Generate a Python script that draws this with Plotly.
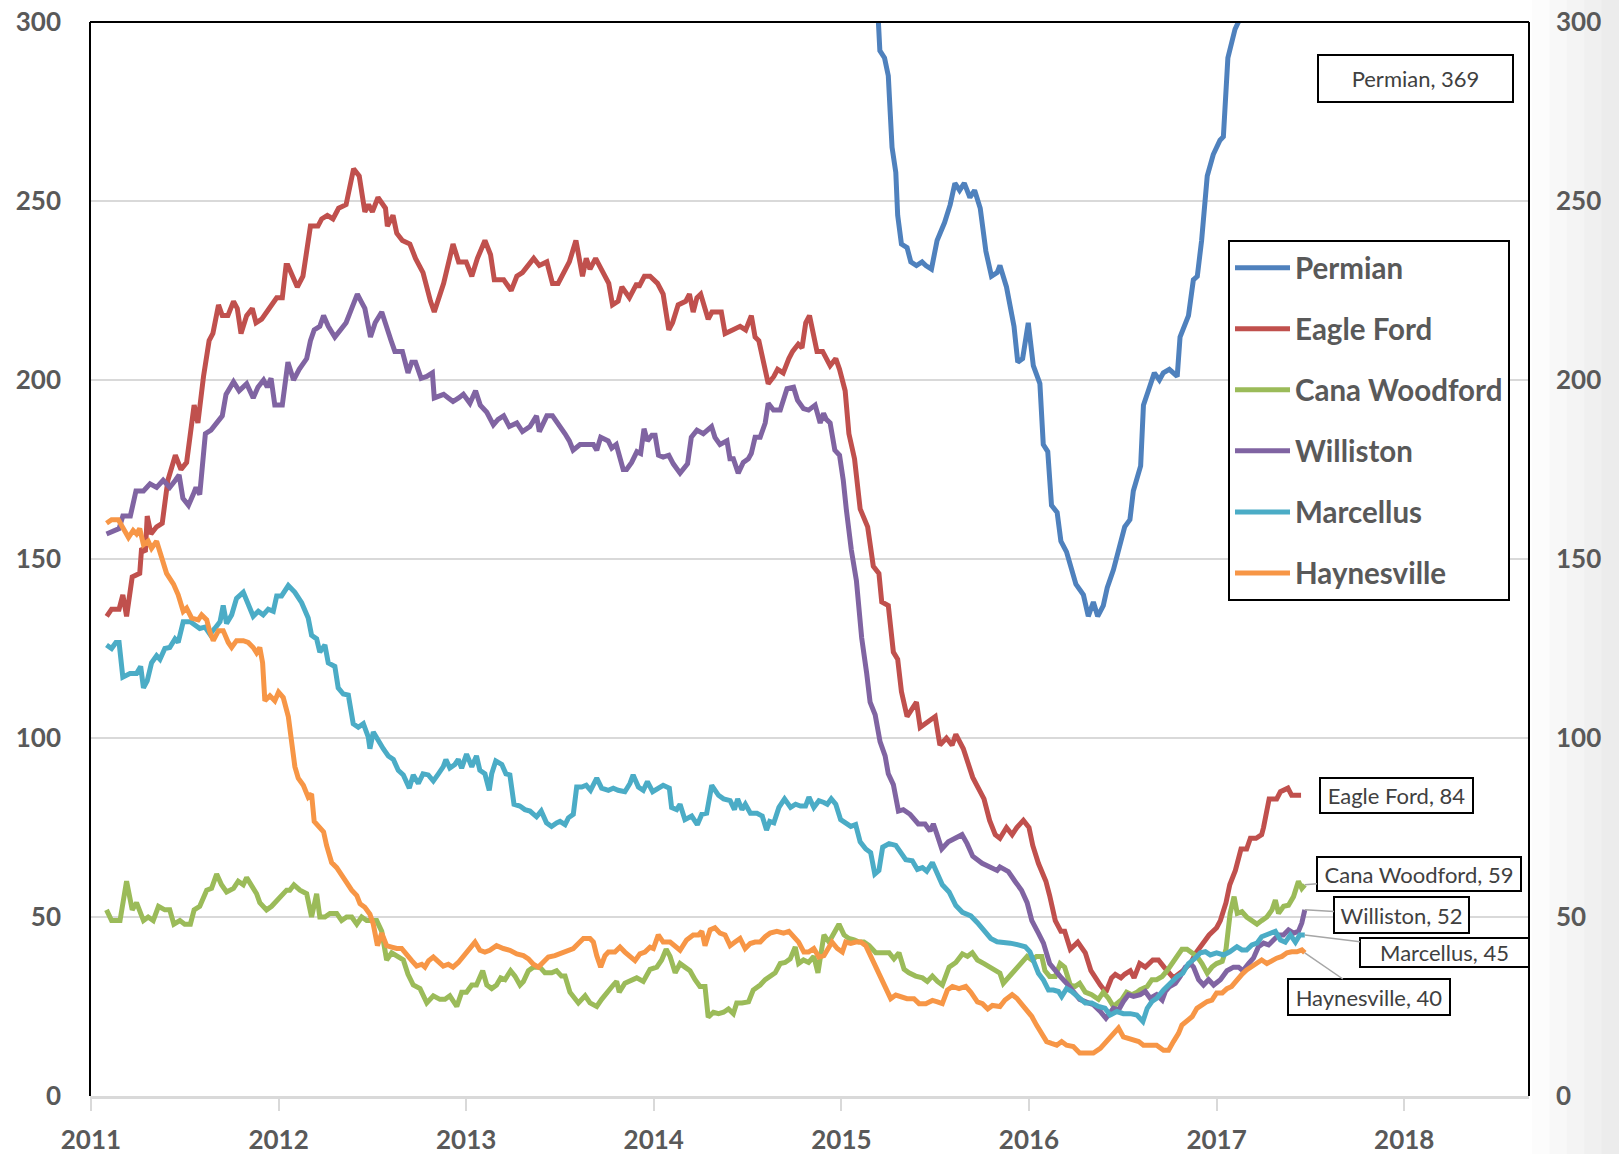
import plotly.graph_objects as go

# ---------------- data (decimal year, rig count) ----------------
YEAR_TICKS = [2011, 2012, 2013, 2014, 2015, 2016, 2017, 2018]
Y_TICKS = [0, 50, 100, 150, 200, 250, 300]

permian = [(2015.10, 400), (2015.17, 330), (2015.20, 300), (2015.205, 292), (2015.23, 290), (2015.25, 285),
           (2015.26, 275), (2015.27, 265), (2015.29, 258), (2015.30, 246), (2015.32, 238), (2015.35, 237),
           (2015.37, 233), (2015.40, 232), (2015.43, 233), (2015.45, 232), (2015.48, 231), (2015.51, 239),
           (2015.55, 244), (2015.58, 249), (2015.605, 255), (2015.63, 253), (2015.655, 255), (2015.685, 251),
           (2015.71, 253), (2015.74, 248), (2015.77, 236), (2015.80, 229), (2015.83, 230), (2015.845, 232),
           (2015.88, 226), (2015.907, 218), (2015.92, 215), (2015.94, 205), (2015.966, 206), (2015.996, 216),
           (2016.023, 204), (2016.058, 199), (2016.076, 182), (2016.10, 180), (2016.12, 165), (2016.15, 163),
           (2016.17, 155), (2016.20, 152), (2016.23, 147), (2016.25, 143), (2016.29, 140), (2016.316, 134),
           (2016.343, 138), (2016.366, 134), (2016.396, 137), (2016.417, 142), (2016.45, 147), (2016.476, 152),
           (2016.51, 159), (2016.538, 161), (2016.556, 169), (2016.595, 176), (2016.61, 193), (2016.636, 197),
           (2016.668, 202), (2016.695, 200), (2016.716, 202), (2016.748, 203), (2016.77, 202), (2016.79, 201),
           (2016.805, 212), (2016.83, 215), (2016.85, 218), (2016.876, 228), (2016.897, 229), (2016.92, 239),
           (2016.95, 257), (2016.982, 263), (2017.018, 267), (2017.036, 268), (2017.06, 290), (2017.098, 298),
           (2017.116, 300), (2017.16, 312), (2017.25, 335), (2017.35, 356), (2017.45, 369)]

eagle_ford = [(2011.084, 134), (2011.11, 136), (2011.15, 136), (2011.17, 140), (2011.19, 134), (2011.22, 145),
              (2011.26, 146), (2011.27, 153), (2011.29, 152), (2011.30, 162), (2011.32, 157), (2011.35, 159),
              (2011.38, 160), (2011.41, 172), (2011.45, 179), (2011.48, 175), (2011.51, 177), (2011.55, 193),
              (2011.57, 188), (2011.60, 201), (2011.63, 211), (2011.65, 213), (2011.68, 221), (2011.70, 218),
              (2011.73, 218), (2011.76, 222), (2011.78, 220), (2011.80, 213), (2011.83, 218), (2011.86, 220),
              (2011.88, 216), (2011.91, 217), (2011.95, 220), (2011.99, 223), (2012.02, 223), (2012.04, 232),
              (2012.05, 232), (2012.10, 226), (2012.13, 229), (2012.17, 243), (2012.21, 243), (2012.23, 245),
              (2012.26, 246), (2012.29, 245), (2012.32, 248), (2012.36, 249), (2012.40, 259), (2012.43, 257),
              (2012.46, 247), (2012.48, 249), (2012.50, 247), (2012.53, 251), (2012.57, 248), (2012.58, 243),
              (2012.61, 246), (2012.63, 241), (2012.66, 239), (2012.70, 238), (2012.73, 234), (2012.77, 230),
              (2012.81, 222), (2012.83, 219), (2012.88, 227), (2012.93, 238), (2012.96, 233), (2013.00, 233),
              (2013.03, 229), (2013.06, 234), (2013.10, 239), (2013.13, 235), (2013.15, 228), (2013.20, 228),
              (2013.24, 225), (2013.27, 229), (2013.30, 230), (2013.36, 234), (2013.39, 232), (2013.43, 233),
              (2013.46, 227), (2013.49, 227), (2013.55, 233), (2013.585, 239), (2013.62, 229), (2013.64, 234),
              (2013.66, 231), (2013.69, 234), (2013.73, 230), (2013.76, 227), (2013.78, 221), (2013.81, 222),
              (2013.83, 226), (2013.87, 223), (2013.91, 227), (2013.92, 226), (2013.95, 229), (2013.98, 229),
              (2014.02, 227), (2014.05, 224), (2014.08, 214), (2014.10, 216), (2014.13, 221), (2014.17, 222),
              (2014.19, 224), (2014.21, 219), (2014.23, 223), (2014.25, 224), (2014.29, 217), (2014.31, 219),
              (2014.36, 219), (2014.38, 213), (2014.42, 214), (2014.46, 215), (2014.49, 214), (2014.52, 218),
              (2014.54, 212), (2014.56, 211), (2014.61, 199), (2014.64, 201), (2014.66, 203), (2014.69, 202),
              (2014.72, 206), (2014.74, 208), (2014.77, 210), (2014.79, 209), (2014.81, 216), (2014.83, 218),
              (2014.87, 208), (2014.90, 208), (2014.94, 204), (2014.97, 206), (2014.99, 203), (2015.02, 197),
              (2015.04, 185), (2015.07, 178), (2015.10, 164), (2015.14, 159), (2015.17, 148), (2015.20, 146),
              (2015.215, 138), (2015.25, 137), (2015.277, 124), (2015.30, 122), (2015.32, 113), (2015.35, 106),
              (2015.375, 108), (2015.40, 110), (2015.42, 103), (2015.45, 104), (2015.50, 106), (2015.525, 98),
              (2015.56, 100), (2015.59, 98), (2015.61, 101), (2015.65, 97), (2015.70, 89), (2015.76, 83),
              (2015.79, 77), (2015.82, 73), (2015.845, 72), (2015.88, 75), (2015.91, 73), (2015.935, 75),
              (2015.97, 77), (2016.00, 75), (2016.02, 70), (2016.05, 65), (2016.09, 60), (2016.11, 56),
              (2016.14, 49), (2016.17, 46), (2016.19, 46), (2016.22, 41), (2016.26, 43), (2016.30, 40),
              (2016.33, 35), (2016.38, 31), (2016.41, 29), (2016.44, 33), (2016.46, 34), (2016.49, 33),
              (2016.51, 34), (2016.54, 35), (2016.56, 33), (2016.59, 37), (2016.62, 36), (2016.66, 38),
              (2016.69, 38), (2016.72, 36), (2016.75, 34), (2016.77, 33), (2016.82, 35), (2016.86, 37),
              (2016.89, 40), (2016.93, 43), (2016.96, 45), (2017.00, 47), (2017.02, 49), (2017.05, 54),
              (2017.07, 59), (2017.10, 63), (2017.13, 69), (2017.16, 69), (2017.18, 72), (2017.21, 72),
              (2017.24, 73), (2017.25, 75), (2017.28, 83), (2017.32, 83), (2017.34, 85), (2017.38, 86),
              (2017.40, 84), (2017.45, 84)]

cana_woodford = [(2011.083, 52), (2011.11, 49), (2011.155, 49), (2011.19, 60), (2011.22, 52), (2011.243, 54),
                 (2011.28, 49), (2011.305, 50), (2011.332, 49), (2011.36, 53), (2011.394, 52), (2011.42, 52),
                 (2011.442, 48), (2011.474, 49), (2011.50, 48), (2011.53, 48), (2011.55, 52), (2011.58, 53),
                 (2011.617, 57.5), (2011.643, 58), (2011.67, 62), (2011.696, 59), (2011.723, 57), (2011.76, 58),
                 (2011.785, 60), (2011.812, 59), (2011.83, 61), (2011.865, 58), (2011.883, 56.5), (2011.90, 54),
                 (2011.936, 52), (2011.963, 53), (2011.99, 54.6), (2012.016, 56), (2012.043, 57.5), (2012.06, 57.5),
                 (2012.082, 59), (2012.114, 57.5), (2012.15, 56.5), (2012.176, 50), (2012.203, 56.5), (2012.22, 50),
                 (2012.247, 50), (2012.274, 51), (2012.31, 51), (2012.336, 49), (2012.363, 50), (2012.39, 50),
                 (2012.417, 48), (2012.443, 50), (2012.47, 49), (2012.496, 49), (2012.523, 49), (2012.55, 46),
                 (2012.576, 38), (2012.603, 40), (2012.63, 39), (2012.665, 38), (2012.69, 34), (2012.718, 31),
                 (2012.754, 30), (2012.79, 26), (2012.825, 28), (2012.86, 27), (2012.887, 27), (2012.913, 28),
                 (2012.95, 25), (2012.976, 29), (2013.002, 29), (2013.03, 31), (2013.055, 31), (2013.088, 35),
                 (2013.11, 31), (2013.136, 30), (2013.162, 31), (2013.184, 33), (2013.207, 32.5), (2013.237, 35),
                 (2013.26, 33.5), (2013.287, 31), (2013.305, 32), (2013.332, 35), (2013.358, 36), (2013.393, 36),
                 (2013.42, 34.4), (2013.456, 34.4), (2013.482, 35), (2013.508, 33.5), (2013.527, 33.5),
                 (2013.553, 29), (2013.598, 26), (2013.634, 28), (2013.66, 26), (2013.696, 25), (2013.722, 27),
                 (2013.749, 29), (2013.784, 31), (2013.802, 32), (2013.816, 29), (2013.846, 31.5), (2013.882, 32.5),
                 (2013.909, 33), (2013.944, 32), (2013.98, 35.4), (2014.016, 36), (2014.042, 38), (2014.066, 41),
                 (2014.087, 39), (2014.114, 34.4), (2014.14, 37), (2014.166, 36), (2014.193, 35), (2014.22, 32.5),
                 (2014.246, 30.6), (2014.273, 30.6), (2014.29, 22), (2014.318, 23.4), (2014.345, 23), (2014.372, 23.4),
                 (2014.398, 24.3), (2014.424, 23), (2014.442, 26), (2014.47, 26), (2014.505, 26.3), (2014.53, 29.6),
                 (2014.567, 31), (2014.594, 32.5), (2014.62, 33.5), (2014.647, 34.4), (2014.674, 37), (2014.70, 37.3),
                 (2014.727, 38.3), (2014.754, 41.6), (2014.772, 37), (2014.798, 38), (2014.825, 37.3), (2014.853, 39),
                 (2014.875, 34.4), (2014.89, 40), (2014.907, 45), (2014.934, 43), (2014.96, 45.5), (2014.987, 48),
                 (2015.014, 45), (2015.04, 44), (2015.068, 43.6), (2015.094, 43), (2015.12, 43), (2015.148, 42),
                 (2015.183, 40), (2015.22, 40), (2015.254, 40), (2015.28, 38.3), (2015.307, 40), (2015.334, 35.4),
                 (2015.36, 34.4), (2015.396, 33.5), (2015.432, 33), (2015.458, 32), (2015.485, 33.5), (2015.512, 32),
                 (2015.538, 31), (2015.574, 36), (2015.61, 37.3), (2015.645, 39.7), (2015.672, 39), (2015.698, 40),
                 (2015.725, 38), (2015.76, 37), (2015.796, 36), (2015.83, 35), (2015.845, 34.3), (2015.863, 31.5),
                 (2015.89, 33), (2015.925, 35), (2015.96, 37), (2015.99, 39), (2016.015, 38), (2016.04, 39),
                 (2016.068, 39), (2016.085, 35), (2016.11, 33.4), (2016.14, 33.4), (2016.166, 37), (2016.19, 36),
                 (2016.22, 31), (2016.245, 30.6), (2016.27, 31.5), (2016.30, 29), (2016.334, 28.3), (2016.37, 27),
                 (2016.396, 29), (2016.423, 27.3), (2016.45, 25), (2016.468, 26), (2016.495, 27), (2016.52, 29),
                 (2016.548, 28.3), (2016.575, 29), (2016.593, 29.7), (2016.63, 30.6), (2016.655, 32.5), (2016.68, 32.5),
                 (2016.71, 33.4), (2016.736, 35), (2016.762, 37), (2016.79, 39.4), (2016.815, 41), (2016.842, 41),
                 (2016.87, 40), (2016.895, 39), (2016.922, 37), (2016.95, 34.3), (2016.975, 36), (2017.0, 37),
                 (2017.03, 37.6), (2017.05, 41), (2017.072, 51), (2017.093, 55.7), (2017.11, 51), (2017.135, 51.5),
                 (2017.16, 50), (2017.188, 49), (2017.215, 48), (2017.24, 49), (2017.268, 50), (2017.295, 52),
                 (2017.313, 54.7), (2017.33, 51), (2017.357, 53), (2017.383, 53.3), (2017.41, 55.7), (2017.436, 60),
                 (2017.454, 58), (2017.47, 59)]

williston = [(2011.083, 157), (2011.12, 158), (2011.15, 158.5), (2011.17, 162), (2011.21, 162), (2011.24, 169),
             (2011.28, 169), (2011.315, 171), (2011.35, 170), (2011.385, 172), (2011.42, 170), (2011.45, 172),
             (2011.47, 173.5), (2011.49, 167), (2011.52, 165), (2011.545, 168), (2011.56, 170), (2011.58, 168),
             (2011.61, 185), (2011.64, 186), (2011.68, 189), (2011.70, 190), (2011.72, 196), (2011.76, 199.5),
             (2011.79, 197), (2011.83, 199), (2011.865, 195), (2011.89, 198), (2011.92, 200), (2011.94, 198),
             (2011.96, 200.5), (2011.98, 193), (2012.02, 193), (2012.05, 205), (2012.08, 200), (2012.11, 203),
             (2012.15, 206), (2012.17, 211), (2012.19, 214), (2012.22, 215), (2012.24, 218), (2012.265, 215),
             (2012.30, 212), (2012.33, 214), (2012.36, 216), (2012.39, 220), (2012.42, 224), (2012.44, 222),
             (2012.46, 220), (2012.49, 212), (2012.515, 216), (2012.55, 219), (2012.58, 213.5), (2012.60, 211),
             (2012.62, 208), (2012.66, 208), (2012.69, 202), (2012.71, 205), (2012.73, 205), (2012.76, 200.5),
             (2012.79, 201), (2012.82, 202), (2012.83, 195), (2012.88, 196), (2012.905, 195), (2012.93, 194),
             (2012.96, 195), (2012.985, 196), (2013.02, 193.5), (2013.05, 197), (2013.075, 193), (2013.11, 191),
             (2013.145, 187.5), (2013.17, 189), (2013.20, 190), (2013.23, 187), (2013.27, 188), (2013.30, 185.6),
             (2013.34, 187), (2013.375, 190), (2013.39, 185.6), (2013.43, 190), (2013.46, 190), (2013.49, 188),
             (2013.527, 185), (2013.55, 183), (2013.57, 180.4), (2013.607, 182), (2013.64, 182), (2013.678, 182),
             (2013.696, 180.4), (2013.717, 184), (2013.757, 183), (2013.776, 181), (2013.80, 182), (2013.82, 178.5),
             (2013.837, 175), (2013.855, 175), (2013.882, 177), (2013.91, 180), (2013.93, 179.5), (2013.948, 186.4),
             (2013.966, 183), (2013.99, 184.6), (2014.007, 184.6), (2014.025, 179), (2014.05, 178.5), (2014.08, 179),
             (2014.104, 176.6), (2014.14, 174), (2014.18, 176.6), (2014.20, 184), (2014.23, 186), (2014.264, 185),
             (2014.308, 187), (2014.326, 184), (2014.353, 182), (2014.39, 183), (2014.406, 178), (2014.424, 178),
             (2014.45, 174), (2014.477, 177), (2014.504, 178), (2014.52, 179.5), (2014.54, 184), (2014.567, 184),
             (2014.594, 188), (2014.61, 193.5), (2014.638, 191.6), (2014.674, 191.6), (2014.71, 197.6),
             (2014.745, 198), (2014.766, 194.4), (2014.798, 192), (2014.825, 191.6), (2014.86, 193), (2014.887, 188),
             (2014.905, 190.7), (2014.92, 189), (2014.94, 188), (2014.965, 180.4), (2014.99, 179), (2015.01, 172),
             (2015.026, 164), (2015.053, 152.5), (2015.08, 144), (2015.108, 128), (2015.135, 118), (2015.153, 110),
             (2015.18, 106.5), (2015.206, 99), (2015.233, 95), (2015.25, 90), (2015.277, 87), (2015.304, 79.6),
             (2015.33, 80), (2015.366, 78.7), (2015.41, 76), (2015.446, 76), (2015.473, 74), (2015.49, 76),
             (2015.51, 73), (2015.535, 69), (2015.57, 71), (2015.607, 72), (2015.643, 73), (2015.67, 70.5),
             (2015.70, 67), (2015.75, 65), (2015.79, 64), (2015.83, 63), (2015.845, 64), (2015.89, 62.7),
             (2015.925, 60), (2015.96, 57.5), (2015.99, 54), (2016.015, 49), (2016.05, 45.5), (2016.077, 42.7),
             (2016.11, 37), (2016.14, 34.8), (2016.166, 33.4), (2016.20, 31.5), (2016.236, 29), (2016.27, 27),
             (2016.316, 26), (2016.343, 25.5), (2016.38, 23.6), (2016.41, 21.7), (2016.45, 24.5), (2016.477, 24),
             (2016.503, 26.4), (2016.53, 28.3), (2016.557, 27.8), (2016.593, 28.3), (2016.62, 29.2), (2016.646, 27.3),
             (2016.68, 28.3), (2016.71, 26.8), (2016.727, 29.2), (2016.75, 30.6), (2016.78, 31.5), (2016.806, 33.4),
             (2016.833, 36), (2016.86, 37), (2016.877, 36), (2016.904, 32.5), (2016.93, 31), (2016.957, 32.5),
             (2016.984, 31), (2017.02, 32.5), (2017.055, 35), (2017.09, 36), (2017.117, 36), (2017.14, 35),
             (2017.17, 37), (2017.196, 38.5), (2017.223, 41.7), (2017.25, 42.7), (2017.277, 42.2), (2017.30, 43.6),
             (2017.33, 45), (2017.356, 45), (2017.383, 46.4), (2017.41, 45.5), (2017.436, 46), (2017.454, 48.3),
             (2017.47, 52)]

marcellus = [(2011.083, 126), (2011.11, 125), (2011.133, 126.7), (2011.15, 126.7), (2011.17, 117), (2011.208, 118),
             (2011.243, 118), (2011.265, 120), (2011.28, 114), (2011.30, 116), (2011.323, 121), (2011.35, 123),
             (2011.368, 122), (2011.394, 125), (2011.42, 125.3), (2011.448, 127.7), (2011.465, 126.7),
             (2011.492, 132.5), (2011.53, 132.5), (2011.563, 131.5), (2011.58, 130.6), (2011.608, 131),
             (2011.634, 129), (2011.66, 130.6), (2011.688, 132.5), (2011.705, 137), (2011.723, 132), (2011.75, 134.4),
             (2011.776, 139), (2011.812, 140.7), (2011.838, 137), (2011.865, 134), (2011.892, 135.4), (2011.918, 134.4),
             (2011.945, 136), (2011.972, 135.4), (2011.99, 139.7), (2012.016, 139.7), (2012.052, 142.6),
             (2012.087, 140.7), (2012.123, 137.8), (2012.158, 133.5), (2012.176, 128.7), (2012.203, 127.7),
             (2012.22, 124), (2012.247, 126), (2012.265, 121), (2012.30, 120), (2012.318, 114), (2012.345, 112.3),
             (2012.372, 112), (2012.398, 104), (2012.425, 103), (2012.452, 104), (2012.478, 100.3), (2012.487, 97),
             (2012.505, 101.7), (2012.532, 99), (2012.558, 97), (2012.585, 95), (2012.612, 94), (2012.638, 91),
             (2012.665, 89.7), (2012.697, 86), (2012.718, 89.7), (2012.745, 87.3), (2012.77, 90), (2012.798, 89.7),
             (2012.825, 88), (2012.852, 90), (2012.878, 92), (2012.892, 94), (2012.913, 91.6), (2012.94, 92.6),
             (2012.958, 94), (2012.976, 91.6), (2013.002, 95.5), (2013.03, 92), (2013.055, 95), (2013.073, 91),
             (2013.10, 90), (2013.123, 85.4), (2013.136, 90), (2013.158, 93.6), (2013.19, 92.6), (2013.212, 90),
             (2013.233, 89.7), (2013.255, 81.5), (2013.286, 81), (2013.313, 80), (2013.34, 79.6), (2013.375, 78),
             (2013.40, 79.6), (2013.428, 76.3), (2013.455, 75.3), (2013.482, 76.3), (2013.50, 76.7),
             (2013.527, 75.8), (2013.545, 77.7), (2013.571, 78.7), (2013.589, 86.3), (2013.616, 86.3),
             (2013.64, 86.8), (2013.663, 85.4), (2013.696, 88.8), (2013.722, 86), (2013.758, 85.4), (2013.784, 86),
             (2013.81, 85.4), (2013.846, 85), (2013.873, 87.3), (2013.89, 89.7), (2013.918, 86.3), (2013.944, 85.4),
             (2013.966, 87.8), (2013.994, 85), (2014.024, 86), (2014.05, 86.8), (2014.083, 86), (2014.095, 80.6),
             (2014.122, 80), (2014.14, 81.5), (2014.166, 77.2), (2014.202, 78.2), (2014.232, 75.8), (2014.256, 78.7),
             (2014.282, 79), (2014.309, 86.8), (2014.345, 84), (2014.372, 83), (2014.407, 82.5), (2014.43, 80),
             (2014.447, 83), (2014.47, 80), (2014.488, 81.5), (2014.515, 79), (2014.55, 79), (2014.578, 78.2),
             (2014.601, 74.3), (2014.618, 76.7), (2014.64, 76.3), (2014.667, 80.6), (2014.697, 83), (2014.729, 80.6),
             (2014.756, 81.5), (2014.782, 81), (2014.809, 81), (2014.827, 83.5), (2014.853, 80.6), (2014.88, 82.5),
             (2014.907, 82), (2014.925, 81.5), (2014.946, 83), (2014.97, 81.5), (2014.996, 77.2), (2015.023, 76.3),
             (2015.05, 75.3), (2015.076, 75.8), (2015.10, 71), (2015.13, 69), (2015.156, 68), (2015.178, 62),
             (2015.20, 63), (2015.22, 69.5), (2015.254, 70.5), (2015.29, 70), (2015.316, 68), (2015.343, 66),
             (2015.378, 65.7), (2015.405, 63.3), (2015.432, 63.8), (2015.455, 62.8), (2015.485, 65.2),
             (2015.512, 61.8), (2015.538, 59), (2015.574, 57), (2015.61, 53.2), (2015.645, 51.3), (2015.69, 50.3),
             (2015.725, 48.4), (2015.76, 46.4), (2015.796, 44), (2015.83, 43.1), (2015.87, 43), (2015.90, 42.7),
             (2015.943, 42.2), (2015.98, 41.7), (2016.005, 40.3), (2016.023, 38), (2016.05, 34.3), (2016.077, 32.4),
             (2016.104, 29.6), (2016.13, 29.6), (2016.157, 29.2), (2016.174, 27.8), (2016.20, 30), (2016.228, 29.2),
             (2016.263, 27.8), (2016.30, 26), (2016.334, 26), (2016.37, 25), (2016.405, 24.5), (2016.432, 22.6),
             (2016.468, 23.6), (2016.503, 23), (2016.54, 23), (2016.575, 22.6), (2016.607, 20.8), (2016.63, 24.5),
             (2016.655, 26.4), (2016.68, 27.3), (2016.717, 29.6), (2016.753, 31.5), (2016.79, 33.4), (2016.82, 34.3),
             (2016.85, 37), (2016.886, 38.5), (2016.913, 40), (2016.94, 40.3), (2016.966, 39.4), (2017.0, 40),
             (2017.037, 39.4), (2017.07, 40.3), (2017.108, 41.7), (2017.135, 40.8), (2017.16, 40.8), (2017.188, 42.2),
             (2017.215, 42.7), (2017.24, 44.5), (2017.268, 45), (2017.295, 45.4), (2017.313, 46), (2017.34, 43.6),
             (2017.366, 43), (2017.393, 45), (2017.42, 43), (2017.443, 45), (2017.47, 45)]

haynesville = [(2011.083, 160), (2011.11, 161), (2011.146, 161), (2011.172, 158.5), (2011.20, 156), (2011.225, 158),
               (2011.243, 157), (2011.26, 158.5), (2011.28, 154), (2011.305, 155), (2011.323, 153), (2011.35, 155),
               (2011.38, 150), (2011.403, 146), (2011.44, 143), (2011.465, 140), (2011.492, 135.4), (2011.51, 136.3),
               (2011.537, 133.5), (2011.572, 133), (2011.59, 134.4), (2011.617, 133), (2011.634, 129.6),
               (2011.652, 127.2), (2011.68, 130), (2011.705, 130), (2011.732, 126.7), (2011.75, 125.3),
               (2011.776, 127.2), (2011.812, 127.2), (2011.838, 126.7), (2011.865, 125.3), (2011.883, 123.8),
               (2011.90, 125.3), (2011.915, 121), (2011.927, 110.4), (2011.954, 111.8), (2011.98, 110.4),
               (2012.0, 112.8), (2012.025, 111.3), (2012.052, 106), (2012.07, 99.8), (2012.087, 92), (2012.105, 88.8),
               (2012.132, 86.8), (2012.158, 83.5), (2012.176, 84.4), (2012.19, 76.7), (2012.212, 75.3),
               (2012.24, 73.8), (2012.256, 70), (2012.283, 65.2), (2012.31, 63.8), (2012.336, 61.8), (2012.363, 59.4),
               (2012.39, 57.5), (2012.417, 56), (2012.434, 53.7), (2012.46, 52.7), (2012.487, 50.8), (2012.505, 48),
               (2012.527, 42), (2012.55, 45.5), (2012.576, 42), (2012.603, 41.6), (2012.63, 41.2), (2012.656, 41.2),
               (2012.683, 39.2), (2012.71, 37.8), (2012.736, 36.3), (2012.763, 36.8), (2012.78, 36), (2012.80, 37.8),
               (2012.825, 38.8), (2012.852, 37.3), (2012.878, 36.3), (2012.905, 36.8), (2012.93, 36), (2012.958, 37.3),
               (2012.985, 39.2), (2013.02, 41.2), (2013.047, 43), (2013.073, 40.7), (2013.10, 40.2), (2013.126, 40.7),
               (2013.162, 42), (2013.198, 41.2), (2013.233, 40.7), (2013.27, 39.7), (2013.305, 39.2), (2013.332, 38.3),
               (2013.358, 36.8), (2013.385, 36), (2013.41, 37.3), (2013.438, 38.8), (2013.473, 39.2), (2013.50, 39.7),
               (2013.536, 40.2), (2013.571, 41.2), (2013.598, 42.6), (2013.625, 44), (2013.66, 44), (2013.678, 43),
               (2013.696, 39.2), (2013.717, 36), (2013.74, 39.2), (2013.758, 40.2), (2013.793, 40.2), (2013.82, 41.6),
               (2013.846, 40.2), (2013.873, 38.8), (2013.90, 37.8), (2013.926, 39.7), (2013.953, 40.2),
               (2013.98, 41.6), (2013.998, 41.2), (2014.024, 45), (2014.05, 43), (2014.087, 43), (2014.114, 42),
               (2014.14, 40.7), (2014.175, 43.6), (2014.21, 45), (2014.238, 45), (2014.256, 46), (2014.273, 42),
               (2014.30, 46.4), (2014.326, 47), (2014.353, 45.5), (2014.38, 45), (2014.407, 42), (2014.433, 43),
               (2014.46, 44), (2014.487, 41.2), (2014.514, 42.6), (2014.54, 43), (2014.567, 43), (2014.594, 44.5),
               (2014.62, 45.5), (2014.656, 46), (2014.692, 45.5), (2014.72, 46), (2014.745, 44.5), (2014.772, 43),
               (2014.80, 40.2), (2014.825, 40.2), (2014.853, 41.2), (2014.88, 38.8), (2014.907, 39.2), (2014.925, 40.7),
               (2014.95, 43), (2014.978, 41.2), (2015.005, 40.2), (2015.023, 43), (2015.05, 42.6), (2015.076, 43),
               (2015.103, 43), (2015.13, 42), (2015.156, 39.2), (2015.183, 36), (2015.21, 33.5), (2015.236, 30.6),
               (2015.263, 27.2), (2015.29, 28.2), (2015.316, 27.7), (2015.35, 27.2), (2015.387, 27.2), (2015.414, 25.8),
               (2015.45, 25.8), (2015.485, 26.7), (2015.512, 26.3), (2015.538, 25.8), (2015.565, 29.6), (2015.592, 30.6),
               (2015.627, 30), (2015.663, 30.6), (2015.69, 29), (2015.725, 26.3), (2015.752, 25.8), (2015.78, 24.3),
               (2015.805, 25.3), (2015.83, 25.3), (2015.845, 25), (2015.872, 26.8), (2015.91, 28.3), (2015.935, 27.3),
               (2015.962, 25.5), (2015.99, 24), (2016.015, 22.2), (2016.04, 19.8), (2016.068, 17.5), (2016.094, 15.2),
               (2016.12, 14.7), (2016.148, 14.2), (2016.174, 15.2), (2016.20, 14.2), (2016.236, 13.8), (2016.27, 12),
               (2016.307, 12), (2016.343, 12), (2016.38, 13.3), (2016.41, 15.2), (2016.44, 17), (2016.468, 18.4),
               (2016.477, 19), (2016.503, 16.5), (2016.53, 16), (2016.557, 15.6), (2016.585, 15.2), (2016.61, 14.2),
               (2016.647, 14.2), (2016.68, 14.2), (2016.717, 12.8), (2016.744, 12.8), (2016.77, 15.2), (2016.797, 17.5),
               (2016.815, 19.8), (2016.842, 20.8), (2016.87, 22.2), (2016.895, 24.5), (2016.922, 25.5), (2016.95, 26.4),
               (2016.975, 26.8), (2017.0, 28.8), (2017.03, 28.8), (2017.055, 30), (2017.08, 30.6), (2017.108, 32.5),
               (2017.135, 34), (2017.16, 35.2), (2017.188, 36.2), (2017.215, 37), (2017.24, 38), (2017.268, 37),
               (2017.295, 38), (2017.32, 38.5), (2017.348, 39), (2017.375, 40), (2017.40, 40.3), (2017.428, 40.3),
               (2017.454, 40.8), (2017.47, 40)]

SERIES = [
    ("Permian", permian, "#4F81BD"),
    ("Eagle Ford", eagle_ford, "#C0504D"),
    ("Cana Woodford", cana_woodford, "#9BBB59"),
    ("Williston", williston, "#8064A2"),
    ("Marcellus", marcellus, "#4BACC6"),
    ("Haynesville", haynesville, "#F79646"),
]

# ---------------- geometry (screen pixels; body margin removed by post_script) ----------------
SW, SH = 1619, 1154
W, H = SW, SH
PL, PR, PT, PB = 90, 1529, 22, 1096          # plot area in screen pixels
ML, MT = PL, PT
MR, MB = W - PR, H - PB
PW, PH = PR - PL, PB - PT
XR = [2010.995, 2018.665]
YR = [0, 300.02]


def px(xs):
    return (xs - PL) / PW


def py(ys):
    return (PB - ys) / PH


fig = go.Figure()
for i, (name, pts, color) in enumerate(SERIES):
    fig.add_trace(go.Scatter(
        x=[p[0] for p in pts], y=[p[1] for p in pts], name=name, mode="lines",
        line=dict(color=color, width=5), legendgroup=name, hoverinfo="skip",
        yaxis="y2" if i == len(SERIES) - 1 else "y"))

TICK_FONT = dict(family="Lato", size=26, color="#595959", weight="bold")

fig.update_layout(
    width=W, height=H,
    margin=dict(l=ML, r=MR, t=MT, b=MB, autoexpand=False),
    paper_bgcolor="white", plot_bgcolor="white",
    font=dict(family="Lato"),
    showlegend=True,
    legend=dict(x=px(1228), y=py(240), xanchor="left", yanchor="top",
                bgcolor="white", bordercolor="black", borderwidth=2,
                font=dict(family="Lato", size=29.5, color="#595959", weight="bold"),
                tracegroupgap=19.7, itemwidth=55, traceorder="grouped"),
    xaxis=dict(range=XR, tickmode="array", tickvals=YEAR_TICKS,
               ticktext=[str(v) for v in YEAR_TICKS], tickfont=TICK_FONT,
               showgrid=False, zeroline=False, showline=True, linecolor="#d9d9d9", linewidth=3,
               ticks="outside", ticklen=12, tickwidth=2, tickcolor="#d9d9d9",
               ticklabelstandoff=7, ticklabeloverflow="allow", automargin=False),
    yaxis=dict(range=YR, tickmode="array", tickvals=Y_TICKS, tickfont=TICK_FONT,
               showgrid=True, gridcolor="#d9d9d9", gridwidth=2, zeroline=False,
               showline=False, ticks="", ticklabelstandoff=28, ticklabeloverflow="allow",
               automargin=False),
    yaxis2=dict(range=YR, tickmode="array", tickvals=Y_TICKS, tickfont=TICK_FONT,
                overlaying="y", side="right", showgrid=False, zeroline=False,
                showline=False, ticks="", ticklabelstandoff=26, ticklabeloverflow="allow",
                automargin=False),
)

# slide-like gray gradient at the right edge
grays = ["#fcfcfc", "#f8f8f8", "#f4f4f4", "#f0f0f0", "#ececec"]
x0 = 1532
step = (SW - x0) / len(grays)
for i, g in enumerate(grays):
    fig.add_shape(type="rect", xref="paper", yref="paper", layer="below",
                  x0=px(x0 + i * step), x1=px(x0 + (i + 1) * step) + 0.001,
                  y0=py(SH + 5), y1=py(-5), fillcolor=g, line=dict(width=0))

# black frame on left, top and right of plot area
for (xa, ya, xb, yb) in [(0, 0, 0, 1), (0, 1, 1, 1), (1, 0, 1, 1)]:
    fig.add_shape(type="line", xref="paper", yref="paper", x0=xa, y0=ya, x1=xb, y1=yb,
                  line=dict(color="black", width=2), layer="above")

LABEL_FONT = dict(family="Lato", size=22, color="#404040")

# end-value labels: (series, box centre x, y in screen px, box w, h, leader line?)
labels = [
    ("Permian", 1415.5, 78.5, 197, 49, False),
    ("Eagle Ford", 1396.5, 795.5, 155, 37, False),
    ("Cana Woodford", 1419, 874, 206, 36, True),
    ("Williston", 1401.5, 915, 137, 38, True),
    ("Marcellus", 1444.5, 952.5, 171, 31, True),
    ("Haynesville", 1369, 997, 164, 38, True),
]
series_map = {n: pts for n, pts, c in SERIES}
for name, cx, cy, bw, bh, arrow in labels:
    ex, ey = series_map[name][-1]
    text = f"{name}, {ey:g}"
    common = dict(text=text, font=LABEL_FONT, bgcolor="white", bordercolor="black",
                  borderwidth=2, borderpad=0, width=bw - 4, height=bh - 4, align="center",
                  valign="middle")
    if arrow:
        xpix = PL + (ex - XR[0]) / (XR[1] - XR[0]) * PW
        ypix = PB - ey / YR[1] * PH
        fig.add_annotation(x=ex, y=ey, xref="x", yref="y", showarrow=True, arrowhead=0,
                           arrowcolor="#a6a6a6", arrowwidth=1.5, ax=cx - xpix, ay=cy - ypix,
                           **common)
    else:
        fig.add_annotation(x=px(cx), y=py(cy), xref="paper", yref="paper", showarrow=False,
                           xanchor="center", yanchor="middle", **common)

fig.write_html("out.html",
               config={"displayModeBar": False},
               post_script="document.body.style.margin='0';document.body.style.overflow='hidden';")
